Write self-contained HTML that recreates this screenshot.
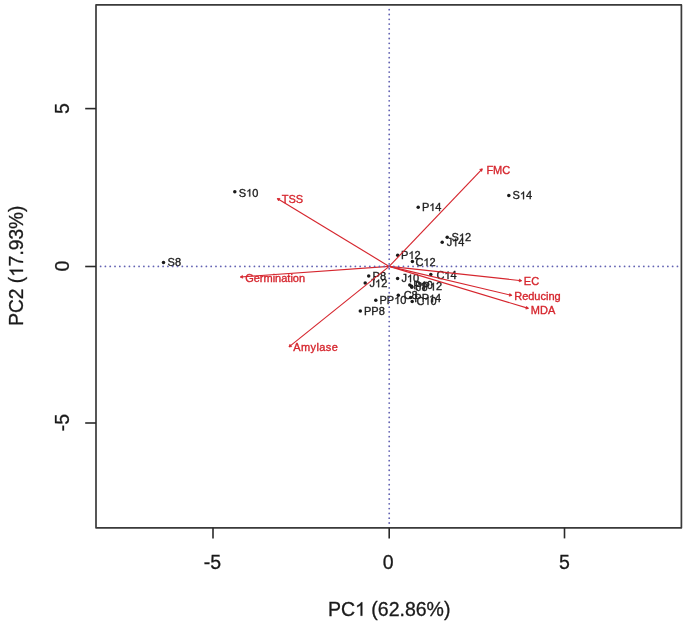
<!DOCTYPE html>
<html><head><meta charset="utf-8"><title>PCA biplot</title>
<style>html,body{margin:0;padding:0;background:#fff;width:685px;height:626px;overflow:hidden}body{position:relative;font-family:"Liberation Sans",sans-serif}#wrap{position:absolute;left:0;top:0;width:685px;height:626px;will-change:transform}</style>
</head><body><div id="wrap">
<svg width="685" height="626" viewBox="0 0 685 626" style="position:absolute;left:0;top:0;font-kerning:none" font-family="Liberation Sans, sans-serif">
<rect width="685" height="626" fill="#fff"/>
<g fill="#1a1a1a">
<circle cx="163.5" cy="262.5" r="1.75"/>
<circle cx="234.8" cy="191.7" r="1.75"/>
<circle cx="447.2" cy="237.2" r="1.75"/>
<circle cx="508.8" cy="195.5" r="1.75"/>
<circle cx="368.7" cy="275.9" r="1.75"/>
<circle cx="397.7" cy="255.3" r="1.75"/>
<circle cx="418.2" cy="207.3" r="1.75"/>
<circle cx="397.6" cy="278.4" r="1.75"/>
<circle cx="365.2" cy="283.1" r="1.75"/>
<circle cx="442.2" cy="242.2" r="1.75"/>
<circle cx="398.3" cy="295.2" r="1.75"/>
<circle cx="412.2" cy="301.4" r="1.75"/>
<circle cx="412.4" cy="261.4" r="1.75"/>
<circle cx="430.8" cy="274.5" r="1.75"/>
<circle cx="360.3" cy="311.0" r="1.75"/>
<circle cx="375.8" cy="300.2" r="1.75"/>
<circle cx="411.6" cy="286.2" r="1.75"/>
<circle cx="410.7" cy="297.6" r="1.75"/>
<circle cx="409.8" cy="285.0" r="1.75"/>
<circle cx="411.8" cy="287.2" r="1.75"/>
</g>
<text x="167.60" y="266.38" font-size="11.0" fill="#222" stroke="#222" stroke-width="0.35">S8</text>
<text x="238.80" y="196.58" font-size="11.0" fill="#222" stroke="#222" stroke-width="0.35">S 0</text><path d="M763,0L583,0L583,1102Q518,1043 412.5,983Q307,923 223,894L223,1061Q374,1129 487,1226Q600,1323 647,1409L763,1409Z" transform="translate(246.137,196.584) scale(0.005371,-0.005371)" fill="#222" stroke="#222" stroke-width="65.16"/>
<text x="451.50" y="241.08" font-size="11.0" fill="#222" stroke="#222" stroke-width="0.35">S 2</text><path d="M763,0L583,0L583,1102Q518,1043 412.5,983Q307,923 223,894L223,1061Q374,1129 487,1226Q600,1323 647,1409L763,1409Z" transform="translate(458.837,241.084) scale(0.005371,-0.005371)" fill="#222" stroke="#222" stroke-width="65.16"/>
<text x="512.60" y="199.18" font-size="11.0" fill="#222" stroke="#222" stroke-width="0.35">S 4</text><path d="M763,0L583,0L583,1102Q518,1043 412.5,983Q307,923 223,894L223,1061Q374,1129 487,1226Q600,1323 647,1409L763,1409Z" transform="translate(519.937,199.184) scale(0.005371,-0.005371)" fill="#222" stroke="#222" stroke-width="65.16"/>
<text x="372.60" y="279.78" font-size="11.0" fill="#222" stroke="#222" stroke-width="0.35">P8</text>
<text x="401.10" y="258.78" font-size="11.0" fill="#222" stroke="#222" stroke-width="0.35">P 2</text><path d="M763,0L583,0L583,1102Q518,1043 412.5,983Q307,923 223,894L223,1061Q374,1129 487,1226Q600,1323 647,1409L763,1409Z" transform="translate(408.435,258.784) scale(0.005371,-0.005371)" fill="#222" stroke="#222" stroke-width="65.16"/>
<text x="421.90" y="210.88" font-size="11.0" fill="#222" stroke="#222" stroke-width="0.35">P 4</text><path d="M763,0L583,0L583,1102Q518,1043 412.5,983Q307,923 223,894L223,1061Q374,1129 487,1226Q600,1323 647,1409L763,1409Z" transform="translate(429.235,210.884) scale(0.005371,-0.005371)" fill="#222" stroke="#222" stroke-width="65.16"/>
<text x="401.43" y="282.18" font-size="11.0" fill="#222" stroke="#222" stroke-width="0.35">J 0</text><path d="M763,0L583,0L583,1102Q518,1043 412.5,983Q307,923 223,894L223,1061Q374,1129 487,1226Q600,1323 647,1409L763,1409Z" transform="translate(406.928,282.184) scale(0.005371,-0.005371)" fill="#222" stroke="#222" stroke-width="65.16"/>
<text x="369.53" y="287.18" font-size="11.0" fill="#222" stroke="#222" stroke-width="0.35">J 2</text><path d="M763,0L583,0L583,1102Q518,1043 412.5,983Q307,923 223,894L223,1061Q374,1129 487,1226Q600,1323 647,1409L763,1409Z" transform="translate(375.028,287.184) scale(0.005371,-0.005371)" fill="#222" stroke="#222" stroke-width="65.16"/>
<text x="446.63" y="246.18" font-size="11.0" fill="#222" stroke="#222" stroke-width="0.35">J 4</text><path d="M763,0L583,0L583,1102Q518,1043 412.5,983Q307,923 223,894L223,1061Q374,1129 487,1226Q600,1323 647,1409L763,1409Z" transform="translate(452.128,246.184) scale(0.005371,-0.005371)" fill="#222" stroke="#222" stroke-width="65.16"/>
<text x="403.64" y="298.98" font-size="11.0" fill="#222" stroke="#222" stroke-width="0.35">C8</text>
<text x="416.44" y="304.68" font-size="11.0" fill="#222" stroke="#222" stroke-width="0.35">C 0</text><path d="M763,0L583,0L583,1102Q518,1043 412.5,983Q307,923 223,894L223,1061Q374,1129 487,1226Q600,1323 647,1409L763,1409Z" transform="translate(424.385,304.684) scale(0.005371,-0.005371)" fill="#222" stroke="#222" stroke-width="65.16"/>
<text x="415.44" y="265.88" font-size="11.0" fill="#222" stroke="#222" stroke-width="0.35">C 2</text><path d="M763,0L583,0L583,1102Q518,1043 412.5,983Q307,923 223,894L223,1061Q374,1129 487,1226Q600,1323 647,1409L763,1409Z" transform="translate(423.385,265.884) scale(0.005371,-0.005371)" fill="#222" stroke="#222" stroke-width="65.16"/>
<text x="436.44" y="278.98" font-size="11.0" fill="#222" stroke="#222" stroke-width="0.35">C 4</text><path d="M763,0L583,0L583,1102Q518,1043 412.5,983Q307,923 223,894L223,1061Q374,1129 487,1226Q600,1323 647,1409L763,1409Z" transform="translate(444.385,278.984) scale(0.005371,-0.005371)" fill="#222" stroke="#222" stroke-width="65.16"/>
<text x="364.00" y="314.78" font-size="11.0" fill="#222" stroke="#222" stroke-width="0.35">PP8</text>
<text x="379.50" y="303.98" font-size="11.0" fill="#222" stroke="#222" stroke-width="0.35">PP 0</text><path d="M763,0L583,0L583,1102Q518,1043 412.5,983Q307,923 223,894L223,1061Q374,1129 487,1226Q600,1323 647,1409L763,1409Z" transform="translate(394.171,303.984) scale(0.005371,-0.005371)" fill="#222" stroke="#222" stroke-width="65.16"/>
<text x="415.10" y="290.38" font-size="11.0" fill="#222" stroke="#222" stroke-width="0.35">PP 2</text><path d="M763,0L583,0L583,1102Q518,1043 412.5,983Q307,923 223,894L223,1061Q374,1129 487,1226Q600,1323 647,1409L763,1409Z" transform="translate(429.771,290.384) scale(0.005371,-0.005371)" fill="#222" stroke="#222" stroke-width="65.16"/>
<text x="414.30" y="302.28" font-size="11.0" fill="#222" stroke="#222" stroke-width="0.35">PP 4</text><path d="M763,0L583,0L583,1102Q518,1043 412.5,983Q307,923 223,894L223,1061Q374,1129 487,1226Q600,1323 647,1409L763,1409Z" transform="translate(428.971,302.284) scale(0.005371,-0.005371)" fill="#222" stroke="#222" stroke-width="65.16"/>
<text x="413.30" y="289.18" font-size="11.0" fill="#222" stroke="#222" stroke-width="0.35">P 0</text><path d="M763,0L583,0L583,1102Q518,1043 412.5,983Q307,923 223,894L223,1061Q374,1129 487,1226Q600,1323 647,1409L763,1409Z" transform="translate(420.635,289.184) scale(0.005371,-0.005371)" fill="#222" stroke="#222" stroke-width="65.16"/>
<text x="416.03" y="290.98" font-size="11.0" fill="#222" stroke="#222" stroke-width="0.35">J8</text>
<line x1="389.2" y1="266.4" x2="482.3" y2="168.8" stroke="#d6262e" stroke-width="1.15"/>
<polygon points="482.30,168.80 479.68,169.47 481.75,171.44" fill="#d6262e" stroke="#d6262e" stroke-width="0.7" stroke-linejoin="round"/>
<line x1="389.2" y1="266.4" x2="277.3" y2="198.5" stroke="#d6262e" stroke-width="1.15"/>
<polygon points="277.30,198.50 278.52,200.91 280.00,198.46" fill="#d6262e" stroke="#d6262e" stroke-width="0.7" stroke-linejoin="round"/>
<line x1="389.2" y1="266.4" x2="240.3" y2="277.0" stroke="#d6262e" stroke-width="1.15"/>
<polygon points="240.30,277.00 242.69,278.26 242.48,275.41" fill="#d6262e" stroke="#d6262e" stroke-width="0.7" stroke-linejoin="round"/>
<line x1="389.2" y1="266.4" x2="289.0" y2="346.9" stroke="#d6262e" stroke-width="1.15"/>
<polygon points="289.00,346.90 291.68,346.58 289.89,344.35" fill="#d6262e" stroke="#d6262e" stroke-width="0.7" stroke-linejoin="round"/>
<line x1="389.2" y1="266.4" x2="521.6" y2="280.7" stroke="#d6262e" stroke-width="1.15"/>
<polygon points="521.60,280.70 519.48,279.03 519.17,281.88" fill="#d6262e" stroke="#d6262e" stroke-width="0.7" stroke-linejoin="round"/>
<line x1="389.2" y1="266.4" x2="511.75" y2="295.4" stroke="#d6262e" stroke-width="1.15"/>
<polygon points="511.75,295.40 509.85,293.48 509.19,296.27" fill="#d6262e" stroke="#d6262e" stroke-width="0.7" stroke-linejoin="round"/>
<line x1="389.2" y1="266.4" x2="528.4" y2="308.4" stroke="#d6262e" stroke-width="1.15"/>
<polygon points="528.40,308.40 526.62,306.37 525.79,309.11" fill="#d6262e" stroke="#d6262e" stroke-width="0.7" stroke-linejoin="round"/>
<text x="486.40" y="173.68" font-size="11.0" fill="#d6262e" stroke="#d6262e" stroke-width="0.35">FMC</text>
<text x="281.75" y="202.78" font-size="11.0" fill="#d6262e" stroke="#d6262e" stroke-width="0.35">TSS</text>
<text x="245.15" y="282.18" font-size="11.0" fill="#d6262e" stroke="#d6262e" stroke-width="0.35">Germination</text>
<text x="293.28" y="351.38" font-size="11.0" fill="#d6262e" stroke="#d6262e" stroke-width="0.35" textLength="44.6" lengthAdjust="spacing">Amylase</text>
<text x="523.80" y="284.88" font-size="11.0" fill="#d6262e" stroke="#d6262e" stroke-width="0.35">EC</text>
<text x="514.20" y="300.18" font-size="11.0" fill="#d6262e" stroke="#d6262e" stroke-width="0.35">Reducing</text>
<text x="530.80" y="313.78" font-size="11.0" fill="#d6262e" stroke="#d6262e" stroke-width="0.35">MDA</text>
<g fill="#6262b2">
<circle cx="100.61" cy="266.4" r="0.9"/>
<circle cx="105.41" cy="266.4" r="0.9"/>
<circle cx="110.22" cy="266.4" r="0.9"/>
<circle cx="115.03" cy="266.4" r="0.9"/>
<circle cx="119.84" cy="266.4" r="0.9"/>
<circle cx="124.64" cy="266.4" r="0.9"/>
<circle cx="129.45" cy="266.4" r="0.9"/>
<circle cx="134.26" cy="266.4" r="0.9"/>
<circle cx="139.06" cy="266.4" r="0.9"/>
<circle cx="143.87" cy="266.4" r="0.9"/>
<circle cx="148.68" cy="266.4" r="0.9"/>
<circle cx="153.48" cy="266.4" r="0.9"/>
<circle cx="158.29" cy="266.4" r="0.9"/>
<circle cx="163.10" cy="266.4" r="0.9"/>
<circle cx="167.91" cy="266.4" r="0.9"/>
<circle cx="172.71" cy="266.4" r="0.9"/>
<circle cx="177.52" cy="266.4" r="0.9"/>
<circle cx="182.33" cy="266.4" r="0.9"/>
<circle cx="187.13" cy="266.4" r="0.9"/>
<circle cx="191.94" cy="266.4" r="0.9"/>
<circle cx="196.75" cy="266.4" r="0.9"/>
<circle cx="201.55" cy="266.4" r="0.9"/>
<circle cx="206.36" cy="266.4" r="0.9"/>
<circle cx="211.17" cy="266.4" r="0.9"/>
<circle cx="215.98" cy="266.4" r="0.9"/>
<circle cx="220.78" cy="266.4" r="0.9"/>
<circle cx="225.59" cy="266.4" r="0.9"/>
<circle cx="230.40" cy="266.4" r="0.9"/>
<circle cx="235.20" cy="266.4" r="0.9"/>
<circle cx="240.01" cy="266.4" r="0.9"/>
<circle cx="244.82" cy="266.4" r="0.9"/>
<circle cx="249.62" cy="266.4" r="0.9"/>
<circle cx="254.43" cy="266.4" r="0.9"/>
<circle cx="259.24" cy="266.4" r="0.9"/>
<circle cx="264.05" cy="266.4" r="0.9"/>
<circle cx="268.85" cy="266.4" r="0.9"/>
<circle cx="273.66" cy="266.4" r="0.9"/>
<circle cx="278.47" cy="266.4" r="0.9"/>
<circle cx="283.27" cy="266.4" r="0.9"/>
<circle cx="288.08" cy="266.4" r="0.9"/>
<circle cx="292.89" cy="266.4" r="0.9"/>
<circle cx="297.69" cy="266.4" r="0.9"/>
<circle cx="302.50" cy="266.4" r="0.9"/>
<circle cx="307.31" cy="266.4" r="0.9"/>
<circle cx="312.12" cy="266.4" r="0.9"/>
<circle cx="316.92" cy="266.4" r="0.9"/>
<circle cx="321.73" cy="266.4" r="0.9"/>
<circle cx="326.54" cy="266.4" r="0.9"/>
<circle cx="331.34" cy="266.4" r="0.9"/>
<circle cx="336.15" cy="266.4" r="0.9"/>
<circle cx="340.96" cy="266.4" r="0.9"/>
<circle cx="345.76" cy="266.4" r="0.9"/>
<circle cx="350.57" cy="266.4" r="0.9"/>
<circle cx="355.38" cy="266.4" r="0.9"/>
<circle cx="360.19" cy="266.4" r="0.9"/>
<circle cx="364.99" cy="266.4" r="0.9"/>
<circle cx="369.80" cy="266.4" r="0.9"/>
<circle cx="374.61" cy="266.4" r="0.9"/>
<circle cx="379.41" cy="266.4" r="0.9"/>
<circle cx="384.22" cy="266.4" r="0.9"/>
<circle cx="389.03" cy="266.4" r="0.9"/>
<circle cx="393.83" cy="266.4" r="0.9"/>
<circle cx="398.64" cy="266.4" r="0.9"/>
<circle cx="403.45" cy="266.4" r="0.9"/>
<circle cx="408.26" cy="266.4" r="0.9"/>
<circle cx="413.06" cy="266.4" r="0.9"/>
<circle cx="417.87" cy="266.4" r="0.9"/>
<circle cx="422.68" cy="266.4" r="0.9"/>
<circle cx="427.48" cy="266.4" r="0.9"/>
<circle cx="432.29" cy="266.4" r="0.9"/>
<circle cx="437.10" cy="266.4" r="0.9"/>
<circle cx="441.90" cy="266.4" r="0.9"/>
<circle cx="446.71" cy="266.4" r="0.9"/>
<circle cx="451.52" cy="266.4" r="0.9"/>
<circle cx="456.33" cy="266.4" r="0.9"/>
<circle cx="461.13" cy="266.4" r="0.9"/>
<circle cx="465.94" cy="266.4" r="0.9"/>
<circle cx="470.75" cy="266.4" r="0.9"/>
<circle cx="475.55" cy="266.4" r="0.9"/>
<circle cx="480.36" cy="266.4" r="0.9"/>
<circle cx="485.17" cy="266.4" r="0.9"/>
<circle cx="489.97" cy="266.4" r="0.9"/>
<circle cx="494.78" cy="266.4" r="0.9"/>
<circle cx="499.59" cy="266.4" r="0.9"/>
<circle cx="504.40" cy="266.4" r="0.9"/>
<circle cx="509.20" cy="266.4" r="0.9"/>
<circle cx="514.01" cy="266.4" r="0.9"/>
<circle cx="518.82" cy="266.4" r="0.9"/>
<circle cx="523.62" cy="266.4" r="0.9"/>
<circle cx="528.43" cy="266.4" r="0.9"/>
<circle cx="533.24" cy="266.4" r="0.9"/>
<circle cx="538.04" cy="266.4" r="0.9"/>
<circle cx="542.85" cy="266.4" r="0.9"/>
<circle cx="547.66" cy="266.4" r="0.9"/>
<circle cx="552.47" cy="266.4" r="0.9"/>
<circle cx="557.27" cy="266.4" r="0.9"/>
<circle cx="562.08" cy="266.4" r="0.9"/>
<circle cx="566.89" cy="266.4" r="0.9"/>
<circle cx="571.69" cy="266.4" r="0.9"/>
<circle cx="576.50" cy="266.4" r="0.9"/>
<circle cx="581.31" cy="266.4" r="0.9"/>
<circle cx="586.11" cy="266.4" r="0.9"/>
<circle cx="590.92" cy="266.4" r="0.9"/>
<circle cx="595.73" cy="266.4" r="0.9"/>
<circle cx="600.53" cy="266.4" r="0.9"/>
<circle cx="605.34" cy="266.4" r="0.9"/>
<circle cx="610.15" cy="266.4" r="0.9"/>
<circle cx="614.96" cy="266.4" r="0.9"/>
<circle cx="619.76" cy="266.4" r="0.9"/>
<circle cx="624.57" cy="266.4" r="0.9"/>
<circle cx="629.38" cy="266.4" r="0.9"/>
<circle cx="634.18" cy="266.4" r="0.9"/>
<circle cx="638.99" cy="266.4" r="0.9"/>
<circle cx="643.80" cy="266.4" r="0.9"/>
<circle cx="648.61" cy="266.4" r="0.9"/>
<circle cx="653.41" cy="266.4" r="0.9"/>
<circle cx="658.22" cy="266.4" r="0.9"/>
<circle cx="663.03" cy="266.4" r="0.9"/>
<circle cx="667.83" cy="266.4" r="0.9"/>
<circle cx="672.64" cy="266.4" r="0.9"/>
<circle cx="677.45" cy="266.4" r="0.9"/>
<circle cx="389.2" cy="523.00" r="0.9"/>
<circle cx="389.2" cy="518.21" r="0.9"/>
<circle cx="389.2" cy="513.41" r="0.9"/>
<circle cx="389.2" cy="508.61" r="0.9"/>
<circle cx="389.2" cy="503.81" r="0.9"/>
<circle cx="389.2" cy="499.02" r="0.9"/>
<circle cx="389.2" cy="494.22" r="0.9"/>
<circle cx="389.2" cy="489.42" r="0.9"/>
<circle cx="389.2" cy="484.63" r="0.9"/>
<circle cx="389.2" cy="479.83" r="0.9"/>
<circle cx="389.2" cy="475.03" r="0.9"/>
<circle cx="389.2" cy="470.24" r="0.9"/>
<circle cx="389.2" cy="465.44" r="0.9"/>
<circle cx="389.2" cy="460.64" r="0.9"/>
<circle cx="389.2" cy="455.84" r="0.9"/>
<circle cx="389.2" cy="451.05" r="0.9"/>
<circle cx="389.2" cy="446.25" r="0.9"/>
<circle cx="389.2" cy="441.45" r="0.9"/>
<circle cx="389.2" cy="436.66" r="0.9"/>
<circle cx="389.2" cy="431.86" r="0.9"/>
<circle cx="389.2" cy="427.06" r="0.9"/>
<circle cx="389.2" cy="422.27" r="0.9"/>
<circle cx="389.2" cy="417.47" r="0.9"/>
<circle cx="389.2" cy="412.67" r="0.9"/>
<circle cx="389.2" cy="407.87" r="0.9"/>
<circle cx="389.2" cy="403.08" r="0.9"/>
<circle cx="389.2" cy="398.28" r="0.9"/>
<circle cx="389.2" cy="393.48" r="0.9"/>
<circle cx="389.2" cy="388.69" r="0.9"/>
<circle cx="389.2" cy="383.89" r="0.9"/>
<circle cx="389.2" cy="379.09" r="0.9"/>
<circle cx="389.2" cy="374.30" r="0.9"/>
<circle cx="389.2" cy="369.50" r="0.9"/>
<circle cx="389.2" cy="364.70" r="0.9"/>
<circle cx="389.2" cy="359.90" r="0.9"/>
<circle cx="389.2" cy="355.11" r="0.9"/>
<circle cx="389.2" cy="350.31" r="0.9"/>
<circle cx="389.2" cy="345.51" r="0.9"/>
<circle cx="389.2" cy="340.72" r="0.9"/>
<circle cx="389.2" cy="335.92" r="0.9"/>
<circle cx="389.2" cy="331.12" r="0.9"/>
<circle cx="389.2" cy="326.33" r="0.9"/>
<circle cx="389.2" cy="321.53" r="0.9"/>
<circle cx="389.2" cy="316.73" r="0.9"/>
<circle cx="389.2" cy="311.93" r="0.9"/>
<circle cx="389.2" cy="307.14" r="0.9"/>
<circle cx="389.2" cy="302.34" r="0.9"/>
<circle cx="389.2" cy="297.54" r="0.9"/>
<circle cx="389.2" cy="292.75" r="0.9"/>
<circle cx="389.2" cy="287.95" r="0.9"/>
<circle cx="389.2" cy="283.15" r="0.9"/>
<circle cx="389.2" cy="278.36" r="0.9"/>
<circle cx="389.2" cy="273.56" r="0.9"/>
<circle cx="389.2" cy="268.76" r="0.9"/>
<circle cx="389.2" cy="263.96" r="0.9"/>
<circle cx="389.2" cy="259.17" r="0.9"/>
<circle cx="389.2" cy="254.37" r="0.9"/>
<circle cx="389.2" cy="249.57" r="0.9"/>
<circle cx="389.2" cy="244.78" r="0.9"/>
<circle cx="389.2" cy="239.98" r="0.9"/>
<circle cx="389.2" cy="235.18" r="0.9"/>
<circle cx="389.2" cy="230.39" r="0.9"/>
<circle cx="389.2" cy="225.59" r="0.9"/>
<circle cx="389.2" cy="220.79" r="0.9"/>
<circle cx="389.2" cy="215.99" r="0.9"/>
<circle cx="389.2" cy="211.20" r="0.9"/>
<circle cx="389.2" cy="206.40" r="0.9"/>
<circle cx="389.2" cy="201.60" r="0.9"/>
<circle cx="389.2" cy="196.81" r="0.9"/>
<circle cx="389.2" cy="192.01" r="0.9"/>
<circle cx="389.2" cy="187.21" r="0.9"/>
<circle cx="389.2" cy="182.42" r="0.9"/>
<circle cx="389.2" cy="177.62" r="0.9"/>
<circle cx="389.2" cy="172.82" r="0.9"/>
<circle cx="389.2" cy="168.02" r="0.9"/>
<circle cx="389.2" cy="163.23" r="0.9"/>
<circle cx="389.2" cy="158.43" r="0.9"/>
<circle cx="389.2" cy="153.63" r="0.9"/>
<circle cx="389.2" cy="148.84" r="0.9"/>
<circle cx="389.2" cy="144.04" r="0.9"/>
<circle cx="389.2" cy="139.24" r="0.9"/>
<circle cx="389.2" cy="134.45" r="0.9"/>
<circle cx="389.2" cy="129.65" r="0.9"/>
<circle cx="389.2" cy="124.85" r="0.9"/>
<circle cx="389.2" cy="120.06" r="0.9"/>
<circle cx="389.2" cy="115.26" r="0.9"/>
<circle cx="389.2" cy="110.46" r="0.9"/>
<circle cx="389.2" cy="105.66" r="0.9"/>
<circle cx="389.2" cy="100.87" r="0.9"/>
<circle cx="389.2" cy="96.07" r="0.9"/>
<circle cx="389.2" cy="91.27" r="0.9"/>
<circle cx="389.2" cy="86.48" r="0.9"/>
<circle cx="389.2" cy="81.68" r="0.9"/>
<circle cx="389.2" cy="76.88" r="0.9"/>
<circle cx="389.2" cy="72.08" r="0.9"/>
<circle cx="389.2" cy="67.29" r="0.9"/>
<circle cx="389.2" cy="62.49" r="0.9"/>
<circle cx="389.2" cy="57.69" r="0.9"/>
<circle cx="389.2" cy="52.90" r="0.9"/>
<circle cx="389.2" cy="48.10" r="0.9"/>
<circle cx="389.2" cy="43.30" r="0.9"/>
<circle cx="389.2" cy="38.51" r="0.9"/>
<circle cx="389.2" cy="33.71" r="0.9"/>
<circle cx="389.2" cy="28.91" r="0.9"/>
<circle cx="389.2" cy="24.12" r="0.9"/>
<circle cx="389.2" cy="19.32" r="0.9"/>
<circle cx="389.2" cy="14.52" r="0.9"/>
<circle cx="389.2" cy="9.72" r="0.9"/>
</g>
<rect x="96.0" y="4.9" width="585.40" height="522.90" fill="none" stroke="#3a3a3a" stroke-width="1.7" stroke-linejoin="round"/>
<line x1="213.0" y1="527.8" x2="213.0" y2="538.4" stroke="#2a2a2a" stroke-width="1.6"/>
<line x1="389.2" y1="527.8" x2="389.2" y2="538.4" stroke="#2a2a2a" stroke-width="1.6"/>
<line x1="564.5" y1="527.8" x2="564.5" y2="538.4" stroke="#2a2a2a" stroke-width="1.6"/>
<line x1="85.2" y1="108.6" x2="96.0" y2="108.6" stroke="#2a2a2a" stroke-width="1.6"/>
<line x1="85.2" y1="266.5" x2="96.0" y2="266.5" stroke="#2a2a2a" stroke-width="1.6"/>
<line x1="85.2" y1="423.0" x2="96.0" y2="423.0" stroke="#2a2a2a" stroke-width="1.6"/>
<text x="203.71" y="569.00" font-size="19.5" fill="#1a1a1a" stroke="#1a1a1a" stroke-width="0.3">-5</text>
<text x="382.63" y="569.00" font-size="19.5" fill="#1a1a1a" stroke="#1a1a1a" stroke-width="0.3">0</text>
<text x="558.95" y="569.00" font-size="19.5" fill="#1a1a1a" stroke="#1a1a1a" stroke-width="0.3">5</text>
<g transform="translate(69,108.5) rotate(-90)"><text x="-5.40" y="0.00" font-size="19.5" fill="#1a1a1a" stroke="#1a1a1a" stroke-width="0.3">5</text></g>
<g transform="translate(69,266.2) rotate(-90)"><text x="-5.42" y="0.00" font-size="19.5" fill="#1a1a1a" stroke="#1a1a1a" stroke-width="0.3">0</text></g>
<g transform="translate(69,422.6) rotate(-90)"><text x="-8.69" y="0.00" font-size="19.5" fill="#1a1a1a" stroke="#1a1a1a" stroke-width="0.3">-5</text></g>
<text x="327.97" y="615.70" font-size="19.5" fill="#1a1a1a" stroke="#1a1a1a" stroke-width="0.3">PC  (62.86%)</text><path d="M763,0L583,0L583,1102Q518,1043 412.5,983Q307,923 223,894L223,1061Q374,1129 487,1226Q600,1323 647,1409L763,1409Z" transform="translate(355.056,615.700) scale(0.009521,-0.009521)" fill="#1a1a1a" stroke="#1a1a1a" stroke-width="31.51"/>
<g transform="translate(23,265.5) rotate(-90)"><text x="-60.34" y="0.00" font-size="19.5" fill="#1a1a1a" stroke="#1a1a1a" stroke-width="0.3" textLength="120.3" lengthAdjust="spacingAndGlyphs">PC2 ( 7.93%)</text><path d="M763,0L583,0L583,1102Q518,1043 412.5,983Q307,923 223,894L223,1061Q374,1129 487,1226Q600,1323 647,1409L763,1409Z" transform="translate(-11.382,0.000) scale(0.009352,-0.009521)" fill="#1a1a1a" stroke="#1a1a1a" stroke-width="31.51"/></g>
</svg>
</div></body></html>
